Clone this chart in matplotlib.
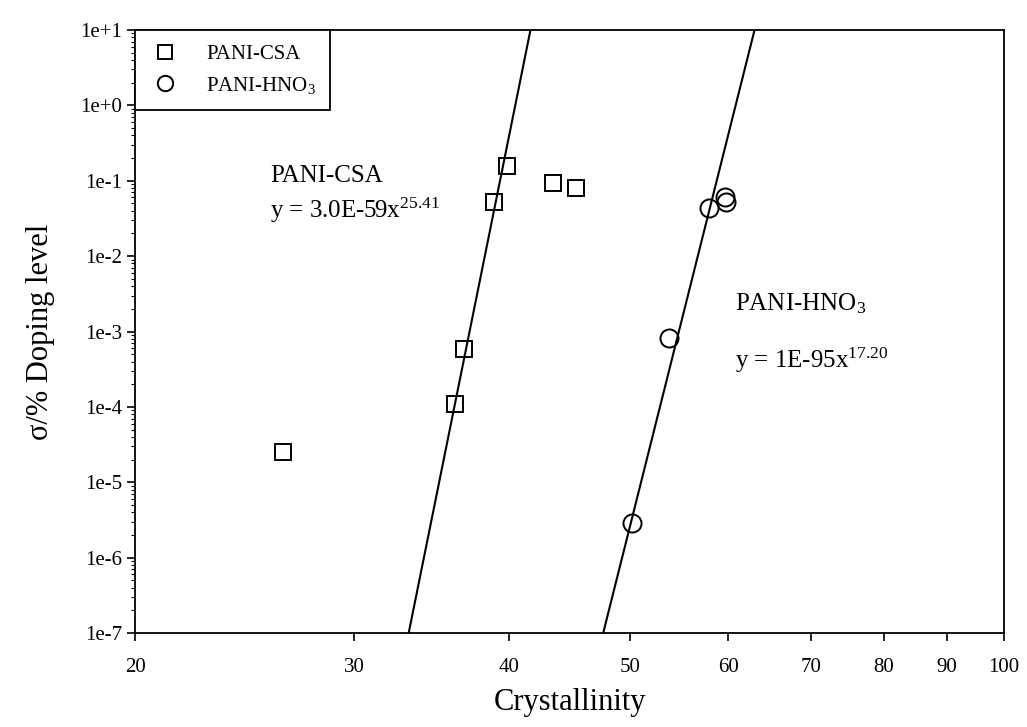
import numpy as np
import matplotlib
matplotlib.use("Agg")
import matplotlib.pyplot as plt
from matplotlib.ticker import FixedLocator, FuncFormatter, LogLocator, NullFormatter, NullLocator

plt.rcParams['font.family'] = ['Liberation Serif', 'DejaVu Serif']
plt.rcParams['mathtext.fontset'] = 'custom'
plt.rcParams['mathtext.rm'] = 'Liberation Serif'
plt.rcParams['mathtext.it'] = 'Liberation Serif:italic'

# data
csa_x = [26.3, 36.2, 36.8, 38.9, 39.8, 43.4, 45.3]
csa_y = [2.5e-5, 1.1e-4, 5.8e-4, 0.052, 0.156, 0.093, 0.079]
hno3_x = [50.2, 53.8, 57.9, 59.7, 59.8]
hno3_y = [2.9e-6, 8.3e-4, 0.044, 0.060, 0.052]

# fitted lines: x where the line meets y = 1e-7 and y = 1e+1
fit_y = [1e-7, 1e1]
csa_fit_x = [33.2, 41.6]
hno3_fit_x = [47.6, 63.0]

x_ticks = [20, 30, 40, 50, 60, 70, 80, 90, 100]
y_ticks = [1e-7, 1e-6, 1e-5, 1e-4, 1e-3, 1e-2, 1e-1, 1e0, 1e1]


def ylab(v, pos):
    e = int(round(np.log10(v)))
    return "1e{}{}".format("+" if e >= 0 else "-", abs(e))


fig = plt.figure(figsize=(10.27, 7.27), dpi=100)
ax = fig.add_axes([0.1315, 0.1293, 0.8461, 0.8294])
ax.set_xscale("log")
ax.set_yscale("log")
ax.set_xlim(20, 100)
ax.set_ylim(1e-7, 1e1)

ax.plot(csa_fit_x, fit_y, color="black", lw=1.5)
ax.plot(hno3_fit_x, fit_y, color="black", lw=1.5)
ax.plot(csa_x, csa_y, ls="none", marker="s", ms=12, mfc="none", mec="black",
        mew=1.4, label="PANI-CSA")
ax.plot(hno3_x, hno3_y, ls="none", marker="o", ms=13, mfc="none", mec="black",
        mew=1.4, label=r"PANI-HNO$_3$")

# ticks
ax.xaxis.set_major_locator(FixedLocator(x_ticks))
ax.xaxis.set_major_formatter(FuncFormatter(lambda v, p: "{:d}".format(int(v))))
ax.xaxis.set_minor_locator(NullLocator())
ax.yaxis.set_major_locator(FixedLocator(y_ticks))
ax.yaxis.set_major_formatter(FuncFormatter(ylab))
ax.yaxis.set_minor_locator(LogLocator(base=10, subs=np.arange(2, 10), numticks=20))
ax.yaxis.set_minor_formatter(NullFormatter())
ax.tick_params(axis="both", which="major", direction="out", length=6, width=1.2,
               labelsize=15, top=False, right=False)
ax.tick_params(axis="x", pad=12)
ax.tick_params(axis="y", which="minor", direction="out", length=3, width=0.8, right=False)
for s in ax.spines.values():
    s.set_linewidth(1.3)

ax.set_xlabel("Crystallinity", fontsize=22, labelpad=8)
ax.set_ylabel("σ/% Doping level", fontsize=22, labelpad=18)

# equation labels
ax.text(0.155, 0.748, "PANI-CSA", transform=ax.transAxes, fontsize=18)
ax.text(0.155, 0.688, r"y = 3.0E-59x$^{25.41}$", transform=ax.transAxes, fontsize=18)
ax.text(0.69, 0.535, r"PANI-HNO$_3$", transform=ax.transAxes, fontsize=18)
ax.text(0.69, 0.44, r"y = 1E-95x$^{17.20}$", transform=ax.transAxes, fontsize=18)

leg = ax.legend(loc="upper left", borderaxespad=0, fontsize=15, frameon=True,
                fancybox=False, edgecolor="black", framealpha=1,
                handletextpad=1.2, borderpad=0.7, labelspacing=0.5,
                handlelength=1.5, markerscale=0.85)
leg.get_frame().set_linewidth(1.3)

fig.savefig("out.png", dpi=100)
